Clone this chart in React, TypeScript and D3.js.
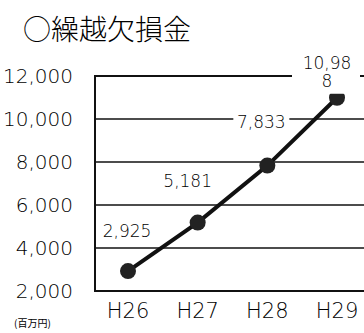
import React from "react";
import * as d3 from "d3";

const categories = ["H26", "H27", "H28", "H29"];
const values = [2925, 5181, 7833, 10988];
const yTicks = [2000, 4000, 6000, 8000, 10000, 12000];
const title = "○繰越欠損金";
const unitLabel = "(百万円)";

const W = 364;
const H = 333;
const plotLeft = 95;
const cjk = "'Noto Sans CJK JP', sans-serif";
const num = "'DejaVu Sans', sans-serif";
const numWeight = 200;
const ink = "#000";

export default function App() {
  const x = d3.scalePoint<string>().domain(categories).range([128, 337]);
  const y = d3.scaleLinear().domain([2000, 12000]).range([291, 76]);
  const line = d3
    .line<number>()
    .x((_, i) => x(categories[i]) as number)
    .y((d) => y(d));
  const fmt = d3.format(",");

  // value label placement relative to each point
  const labelOffsets = [
    { dx: -1, dy: -40 },
    { dx: -10, dy: -42 },
    { dx: -6, dy: -44 },
  ];

  return (
    <svg
      width={W}
      height={H}
      style={{ position: "absolute", left: 0, top: 0, background: "#fff" }}
    >
      <text x={23} y={40} fontFamily={cjk} fontSize={28} fontWeight={300} fill={ink}>
        {title}
      </text>

      {yTicks.map((t) => (
        <g key={t}>
          <line
            x1={plotLeft}
            x2={W}
            y1={y(t)}
            y2={y(t)}
            stroke="#111"
            strokeWidth={t === 12000 || t === 2000 ? 2 : 1.5}
          />
          <text
            x={73}
            y={y(t)}
            dy="0.36em"
            textAnchor="end"
            fontFamily={num}
            fontWeight={numWeight}
            fontSize={20}
            fill={ink}
          >
            {fmt(t)}
          </text>
        </g>
      ))}
      <line x1={plotLeft} x2={plotLeft} y1={y(12000) - 1} y2={y(2000) + 1} stroke="#111" strokeWidth={2} />

      {categories.map((c) => (
        <text
          key={c}
          x={x(c)}
          y={318}
          textAnchor="middle"
          fontFamily={num}
          fontWeight={numWeight}
          fontSize={21}
          fill={ink}
        >
          {c}
        </text>
      ))}
      <text x={14} y={327} fontFamily={cjk} fontSize={10} fill={ink}>
        {unitLabel}
      </text>

      <path d={line(values) ?? ""} fill="none" stroke="#111" strokeWidth={4} />
      {values.map((v, i) => (
        <circle key={i} cx={x(categories[i])} cy={y(v)} r={8} fill="#222" />
      ))}

      {values.slice(0, 3).map((v, i) => {
        const cx = (x(categories[i]) as number) + labelOffsets[i].dx;
        const cy = y(v) + labelOffsets[i].dy;
        return (
          <g key={i}>
            <rect x={cx - 28} y={cy - 10} width={56} height={20} fill="#fff" />
            <text
              x={cx}
              y={cy}
              dy="0.36em"
              textAnchor="middle"
              fontFamily={num}
              fontWeight={numWeight}
              fontSize={17}
              fill={ink}
            >
              {fmt(v)}
            </text>
          </g>
        );
      })}

      {/* last label wraps onto two lines */}
      {(() => {
        const s = fmt(values[3]);
        const cx = (x(categories[3]) as number) - 10;
        const cy = y(values[3]);
        return (
          <g>
            <rect x={cx - 35} y={cy - 44} width={68} height={40} fill="#fff" />
            <text x={cx} y={cy - 35} dy="0.36em" textAnchor="middle" fontFamily={num} fontWeight={numWeight} fontSize={17} fill={ink}>
              {s.slice(0, 5)}
            </text>
            <text x={cx} y={cy - 16.5} dy="0.36em" textAnchor="middle" fontFamily={num} fontWeight={numWeight} fontSize={17} fill={ink}>
              {s.slice(5)}
            </text>
          </g>
        );
      })()}
    </svg>
  );
}
